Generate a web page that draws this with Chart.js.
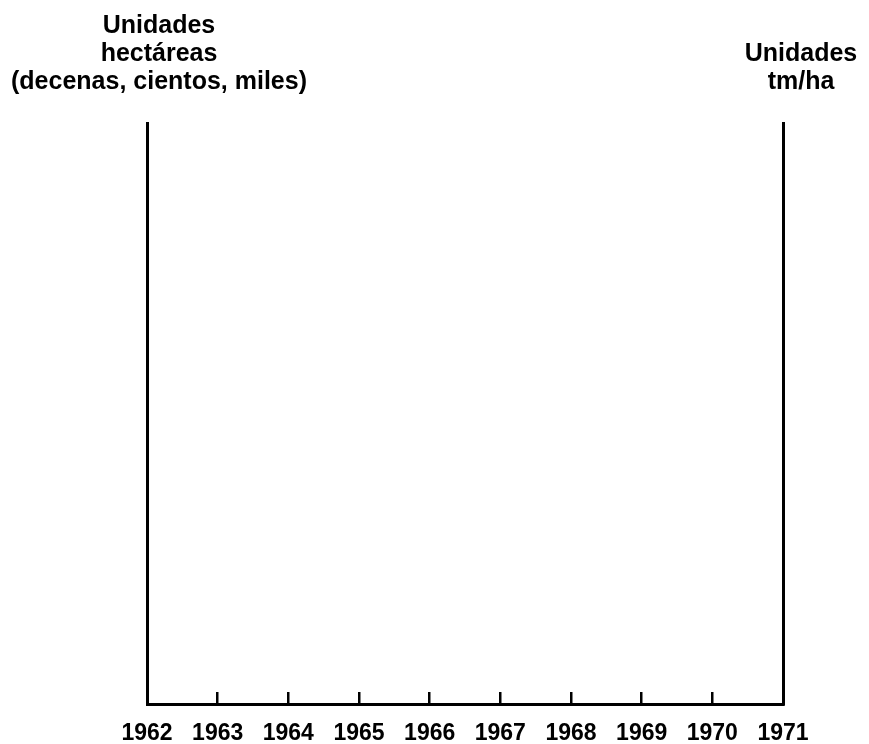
<!DOCTYPE html>
<html lang="es">
<head>
<meta charset="UTF-8">
<title>Unidades 1962-1971</title>
<script src="https://cdn.jsdelivr.net/npm/chart.js"></script>
<style>
  html, body { margin: 0; padding: 0; background: #fff; }
  #wrap { width: 869px; height: 744px; }
</style>
</head>
<body>
<div id="wrap"><canvas id="chart" width="869" height="744"></canvas></div>
<script>
const years = ['1962', '1963', '1964', '1965', '1966', '1967', '1968', '1969', '1970', '1971']
// the original frame is empty: no values are plotted
const hectareas = []
const rendimiento = []
const leftTitle = ['Unidades', 'hectáreas', '(decenas, cientos, miles)']
const rightTitle = ['Unidades', 'tm/ha']

const FONT = '"Liberation Sans", Arial, sans-serif'

const titlesPlugin = {
  id: 'titles',
  afterDraw(chart) {
    const ctx = chart.ctx
    const area = chart.chartArea
    ctx.save()
    ctx.fillStyle = '#000'
    ctx.font = 'bold 25px ' + FONT
    ctx.textAlign = 'center'
    ctx.textBaseline = 'alphabetic'
    leftTitle.forEach((t, i) => ctx.fillText(t, area.left + 12, 33 + i * 28))
    rightTitle.forEach((t, i) => ctx.fillText(t, area.right + 18, 61 + i * 28))
    ctx.restore()
  }
}

new Chart(document.getElementById('chart'), {
  type: 'line',
  data: {
    labels: years,
    datasets: [
      { label: 'hectáreas', data: hectareas, yAxisID: 'y', borderColor: '#000' },
      { label: 'tm/ha', data: rendimiento, yAxisID: 'y1', borderColor: '#000' }
    ]
  },
  options: {
    responsive: false,
    animation: false,
    layout: { padding: { left: 147, right: 86, top: 123, bottom: 0 } },
    plugins: { legend: { display: false }, tooltip: { enabled: false } },
    scales: {
      x: {
        type: 'category',
        offset: false,
        afterFit(s) { s.height = 40 },
        border: { display: true, color: '#000', width: 3 },
        grid: { drawOnChartArea: false, drawTicks: true, tickLength: -12, color: '#000', lineWidth: 2.5 },
        ticks: {
          color: '#000',
          padding: 28,
          maxRotation: 0,
          autoSkip: false,
          font: { family: FONT, weight: 'bold', size: 23 }
        }
      },
      y: {
        position: 'left',
        min: 0,
        max: 10,
        afterFit(s) { s.width = 0 },
        border: { display: true, color: '#000', width: 3 },
        grid: { display: false },
        ticks: { display: false }
      },
      y1: {
        position: 'right',
        min: 0,
        max: 10,
        afterFit(s) { s.width = 0 },
        border: { display: true, color: '#000', width: 3 },
        grid: { display: false },
        ticks: { display: false }
      }
    }
  },
  plugins: [titlesPlugin]
})
</script>
</body>
</html>
